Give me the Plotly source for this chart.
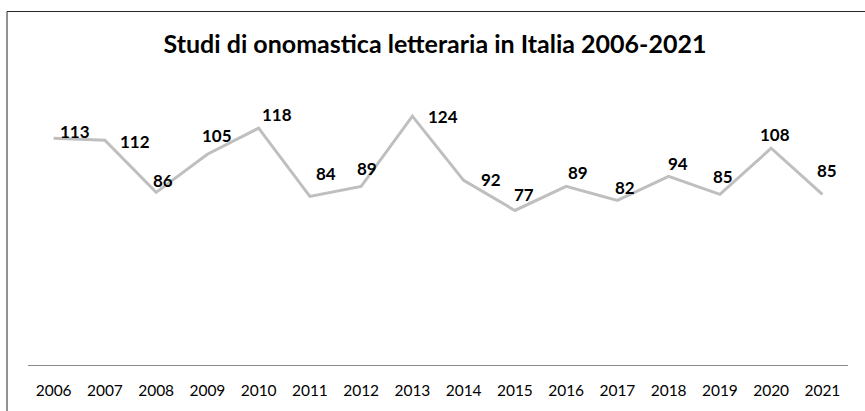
import plotly.graph_objects as go

# ---- data ----
years = [2006, 2007, 2008, 2009, 2010, 2011, 2012, 2013,
         2014, 2015, 2016, 2017, 2018, 2019, 2020, 2021]
year_labels = ["2006", "2007", "2008", "2009", "2010", "2011", "2012", "2013",
               "2014", "2015", "2016", "2017", "2018", "2019", "2020", "2021"]
studies = [113, 112, 86, 105, 118, 84, 89, 124,
           92, 77, 89, 82, 94, 85, 108, 85]
title_text = "Studi di onomastica letteraria in Italia 2006-2021"

# ---- label nudges (pixels, layout only) ----
label_dx = [21, 30, 7, 10, 18, 16, 6, 31, 27, 9, 12, 8, 9, 3, 4, 5]
label_dy = [6, -2, 11, 18, 13, 22, 17, -1, 0, 15, 13, 12, 12, 17, 13, 23]

FONT = "Lato"

fig = go.Figure()
fig.add_trace(go.Scatter(
    x=years, y=studies, mode="lines",
    line=dict(color="#bfbfbf", width=3),
    hoverinfo="x+y", showlegend=False,
))

annotations = []
for x, y, dx, dy in zip(years, studies, label_dx, label_dy):
    annotations.append(dict(
        x=x, y=y, xref="x", yref="y", text=str(y), showarrow=False,
        xanchor="center", yanchor="middle", xshift=dx, yshift=dy + 1,
        font=dict(family=FONT, size=17, color="#000000", weight="bold"),
    ))

W, H = 865, 411
L, R, T, B = 28, 17, 84, 44
pw, ph = W - L - R, H - T - B

def px_to_paper_x(px):
    return (px - L) / pw

def px_to_paper_y(py):
    return (H - B - py) / ph

fig.update_layout(
    width=W, height=H,
    margin=dict(l=L, r=R, t=T, b=B),
    paper_bgcolor="white", plot_bgcolor="white",
    title=dict(text=title_text, x=435 / W, xanchor="center",
               y=1 - 44 / H, yanchor="middle", yref="container",
               font=dict(family=FONT, size=25, color="#000000", weight="bold")),
    xaxis=dict(range=[years[0] - 0.5, years[-1] + 0.5],
               tickvals=years, ticktext=year_labels,
               showgrid=False, zeroline=False, showline=True,
               linecolor="#898989", linewidth=1, ticks="",
               ticklabelstandoff=11,
               tickfont=dict(family=FONT, size=15.5, color="#000000"),
               fixedrange=True),
    yaxis=dict(range=[0, 140], visible=False, fixedrange=True),
    annotations=annotations,
    shapes=[dict(type="rect", xref="paper", yref="paper",
                 x0=px_to_paper_x(7), x1=px_to_paper_x(875),
                 y0=px_to_paper_y(430), y1=px_to_paper_y(11),
                 line=dict(color="#262626", width=1), fillcolor="rgba(0,0,0,0)",
                 layer="above")],
)

fig.write_html("out.html")
